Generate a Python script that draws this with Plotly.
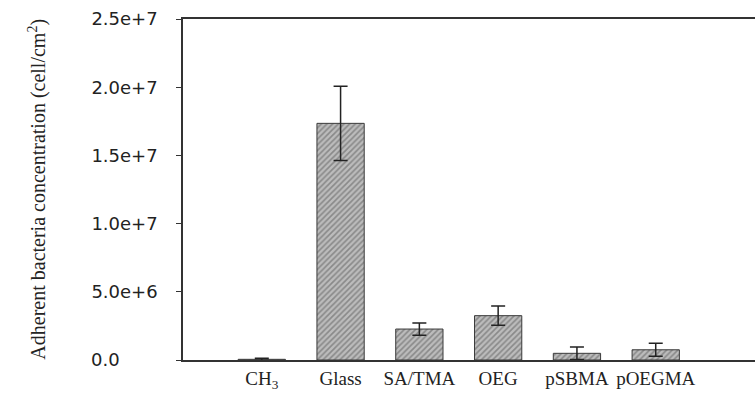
import plotly.graph_objects as go

categories = ["CH<sub>3</sub>", "Glass", "SA/TMA", "OEG", "pSBMA", "pOEGMA"]
values = [0.05e6, 17.35e6, 2.27e6, 3.25e6, 0.49e6, 0.75e6]
errors = [0.08e6, 2.72e6, 0.45e6, 0.71e6, 0.46e6, 0.47e6]
ytickvals = [0, 5e6, 1e7, 1.5e7, 2e7, 2.5e7]
# "0.0" is padded with figure spaces so it left-aligns like the reference
yticktext = ["0.0\u2007\u2007\u2007\u2009", "5.0e+6", "1.0e+7", "1.5e+7", "2.0e+7", "2.5e+7"]
ytitle = "Adherent bacteria concentration (cell/cm<sup>2</sup>)"

fig = go.Figure()
fig.add_trace(go.Bar(
    x=list(range(len(categories))),
    y=values,
    error_y=dict(type="data", array=errors, visible=True, color="#222222",
                 thickness=1.5, width=7),
    marker=dict(
        color="#bcbcbc",
        line=dict(color="#3a3a3a", width=1),
        pattern=dict(shape="/", fgcolor="#555555", bgcolor="#bcbcbc",
                     size=4, solidity=0.4),
    ),
    showlegend=False,
))

fig.update_layout(
    width=755, height=398,
    margin=dict(l=183, r=0, t=19, b=38),
    paper_bgcolor="white", plot_bgcolor="white",
    bargap=0.4,
    xaxis=dict(
        range=[-1, 6.26],
        tickvals=list(range(len(categories))),
        ticktext=categories,
        showline=True, linecolor="#333333", linewidth=1.5, mirror=True,
        ticks="", showgrid=False, zeroline=False,
        tickfont=dict(family="Liberation Serif", size=19, color="#222222"),
    ),
    yaxis=dict(
        range=[0, 2.5e7],
        tickvals=ytickvals, ticktext=yticktext,
        showline=True, linecolor="#333333", linewidth=1.5,
        ticks="outside", ticklen=5, tickcolor="#333333",
        ticklabelstandoff=15,
        showgrid=False, zeroline=False,
        tickfont=dict(family="DejaVu Sans", size=18, color="#222222"),
    ),
    annotations=[dict(
        text=ytitle, textangle=-90, xref="paper", yref="paper",
        x=-0.255, y=0.5, xanchor="center", yanchor="middle", showarrow=False,
        font=dict(family="Liberation Serif", size=20, color="#222222"),
    )],
)

fig.write_html(
    "out.html",
    config={"displayModeBar": False},
    post_script="document.body.style.margin='0';document.body.style.overflow='hidden';",
)
